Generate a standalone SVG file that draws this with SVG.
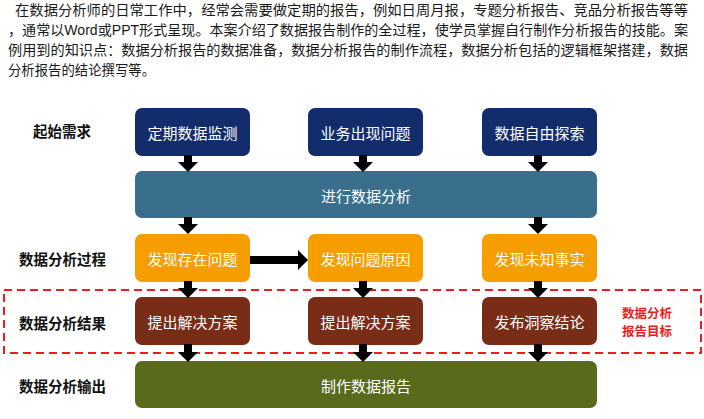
<svg xmlns="http://www.w3.org/2000/svg" width="704" height="419" viewBox="0 0 704 419">
<style>
.intro{font-family:"Liberation Sans","Noto Sans CJK SC",sans-serif;font-size:14px;fill:#1a1a1a}
.row{font-family:"Noto Sans CJK SC",sans-serif;font-size:14.5px;font-weight:bold;fill:#111;dominant-baseline:central}
.bt{font-family:"Noto Sans CJK SC",sans-serif;font-size:15px;fill:#fff;text-anchor:middle;dominant-baseline:central}
.goal{font-family:"Noto Sans CJK SC",sans-serif;font-size:12.5px;font-weight:bold;fill:#ee1c1c}
.blue{fill:#132d6c}
.teal{fill:#3a6e8d}
.orange{fill:#f69d00}
.brown{fill:#792c16}
.olive{fill:#5a6a1d}
.conn{stroke:#000;stroke-width:8;marker-end:url(#ah)}
</style>
<defs>
<marker id="ah" markerUnits="userSpaceOnUse" markerWidth="10" markerHeight="20" viewBox="0 0 10 20" refX="0" refY="10" orient="auto">
<path d="M0,0 L10,10 L0,20 z" fill="#000"/>
</marker>
</defs>
<rect width="704" height="419" fill="#fff"/>
<g id="intro">
<text class="intro" x="15" y="15" textLength="673" lengthAdjust="spacingAndGlyphs">在数据分析师的日常工作中，经常会需要做定期的报告，例如日周月报，专题分析报告、竞品分析报告等等</text>
<text class="intro" x="8" y="35" textLength="680" lengthAdjust="spacingAndGlyphs">，通常以Word或PPT形式呈现。本案介绍了数据报告制作的全过程，使学员掌握自行制作分析报告的技能。案</text>
<text class="intro" x="8" y="55" textLength="680" lengthAdjust="spacingAndGlyphs">例用到的知识点：数据分析报告的数据准备，数据分析报告的制作流程，数据分析包括的逻辑框架搭建，数据</text>
<text class="intro" x="8" y="75" textLength="147" lengthAdjust="spacingAndGlyphs">分析报告的结论撰写等。</text>
</g>
<g id="row-labels">
<text class="row" x="33" y="130">起始需求</text>
<text class="row" x="19" y="258">数据分析过程</text>
<text class="row" x="19" y="322">数据分析结果</text>
<text class="row" x="19" y="385">数据分析输出</text>
</g>
<g id="goal-frame">
<rect x="4" y="290" width="697" height="63" fill="none" stroke="#ee1c1c" stroke-width="2" stroke-dasharray="8 5"/>
<text class="goal" x="622" y="318">数据分析</text>
<text class="goal" x="622" y="336">报告目标</text>
</g>
<g id="n1"><rect class="blue" x="135" y="108" width="115" height="48" rx="7"/><text class="bt" x="192.5" y="132">定期数据监测</text></g>
<g id="n2"><rect class="blue" x="308" y="108" width="115" height="48" rx="7"/><text class="bt" x="365.5" y="132">业务出现问题</text></g>
<g id="n3"><rect class="blue" x="482" y="108" width="115" height="48" rx="7"/><text class="bt" x="539.5" y="132">数据自由探索</text></g>
<g id="n4"><rect class="teal" x="135" y="171" width="462" height="47" rx="7"/><text class="bt" x="366" y="195">进行数据分析</text></g>
<g id="n5"><rect class="orange" x="135" y="234" width="115" height="48" rx="7"/><text class="bt" x="192.5" y="258">发现存在问题</text></g>
<g id="n6"><rect class="orange" x="308" y="234" width="115" height="48" rx="7"/><text class="bt" x="365.5" y="258">发现问题原因</text></g>
<g id="n7"><rect class="orange" x="482" y="234" width="115" height="48" rx="7"/><text class="bt" x="539.5" y="258">发现未知事实</text></g>
<g id="n8"><rect class="brown" x="135" y="297" width="115" height="48" rx="7"/><text class="bt" x="192.5" y="321">提出解决方案</text></g>
<g id="n9"><rect class="brown" x="308" y="297" width="115" height="48" rx="7"/><text class="bt" x="365.5" y="321">提出解决方案</text></g>
<g id="n10"><rect class="brown" x="482" y="297" width="115" height="48" rx="7"/><text class="bt" x="539.5" y="321">发布洞察结论</text></g>
<g id="n11"><rect class="olive" x="135" y="361" width="462" height="47" rx="7"/><text class="bt" x="366" y="385">制作数据报告</text></g>
<g id="connectors">
<line class="conn" x1="188" y1="155" x2="188" y2="162"/>
<line class="conn" x1="363" y1="155" x2="363" y2="162"/>
<line class="conn" x1="538" y1="155" x2="538" y2="162"/>
<line class="conn" x1="188" y1="217" x2="188" y2="224"/>
<line class="conn" x1="538" y1="217" x2="538" y2="224"/>
<line class="conn" x1="250" y1="260" x2="298" y2="260"/>
<line class="conn" x1="188" y1="281" x2="188" y2="288"/>
<line class="conn" x1="363" y1="281" x2="363" y2="288"/>
<line class="conn" x1="538" y1="281" x2="538" y2="288"/>
<line class="conn" x1="188" y1="344" x2="188" y2="352"/>
<line class="conn" x1="363" y1="344" x2="363" y2="352"/>
<line class="conn" x1="538" y1="344" x2="538" y2="352"/>
</g>
</svg>
